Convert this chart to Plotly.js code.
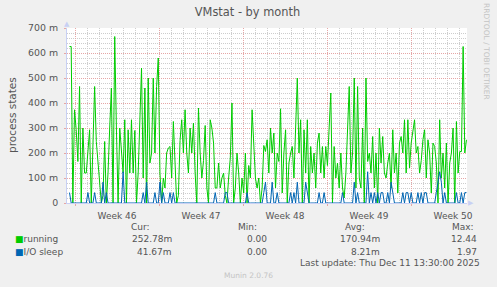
<!DOCTYPE html>
<html>
<head>
<meta charset="utf-8">
<script src="https://cdn.plot.ly/plotly-3.0.1.min.js"></script>
<style>
  html, body { margin: 0; padding: 0; background: #F0F0F0; }
  #chart { width: 497px; height: 287px; }
</style>
</head>
<body>
<div id="chart"></div>
<script>
// ---- data (values in milli-units, 2025-11-09 08:00 = hour 0) ----
const seriesNames = ['running', 'I/O sleep'];
const seriesColors = ['#00CC00', '#0066B3'];

const runningValues = [
  626,626,0,373,293,166,466,0,300,120,
  120,200,293,0,226,466,246,166,80,0,
  30,246,0,120,300,460,0,666,300,0,
  300,200,120,333,0,293,120,333,120,290,
  0,120,373,540,100,460,0,500,160,200,
  500,200,466,580,120,0,100,60,200,220,
  226,100,326,120,0,30,250,333,200,373,
  200,120,300,200,320,120,0,380,200,100,
  170,310,60,0,333,300,240,60,60,160,
  60,100,120,30,0,100,180,400,0,60,
  200,120,0,100,40,200,0,150,100,373,
  200,100,60,100,0,60,230,
  206,253,120,300,200,280,60,200,166,377,
  40,200,293,0,160,200,226,100,330,500,
  200,333,0,293,120,333,0,226,120,200,
  60,240,280,120,226,100,226,150,300,440,
  0,226,100,160,60,200,60,20,120,333,
  466,120,200,500,60,466,100,60,300,0,
  500,166,200,120,266,60,200,0,300,160,
  266,120,100,160,200,60,293,120,200,40,
  240,266,200,333,120,333,140,240,293,333,
  200,226,120,170,253,293,100,253,200,40,
  240,226,160,0,333,100,200,60,240,0,
  160,200,300,0,326,120,206,206,626,200,
  252.78
];

const ioSleepValues = [
  41.67,0,0,0,0,0,0,0,0,0,
  0,41.67,0,0,0,41.67,0,0,0,0,
  83.33,0,41.67,0,0,0,0,0,0,0,
  0,0,125,0,0,0,0,0,0,0,
  0,0,0,0,41.67,0,83.33,0,0,0,
  0,41.67,0,0,83.33,0,41.67,0,0,0,
  41.67,0,41.67,0,0,0,0,0,0,0,
  0,0,0,0,0,0,0,0,0,0,
  0,0,0,0,0,0,0,41.67,0,0,
  0,0,0,41.67,41.67,0,0,0,0,0,
  0,0,0,0,0,0,41.67,0,0,0,
  0,0,0,0,0,0,41.67,83.33,0,0,
  0,83.33,0,0,41.67,0,0,0,0,0,
  0,0,41.67,0,41.67,0,83.33,0,0,0,
  0,83.33,41.67,0,0,0,0,0,0,41.67,
  0,0,41.67,0,0,0,0,0,0,0,
  0,0,0,41.67,0,0,0,0,0,0,
  83.33,0,41.67,0,0,0,0,0,125,0,
  41.67,0,41.67,0,41.67,0,41.67,41.67,0,0,
  41.67,0,83.33,41.67,0,0,0,0,0,41.67,
  0,41.67,41.67,0,41.67,0,0,0,41.67,0,
  41.67,0,41.67,41.67,0,0,0,0,0,41.67,
  83.33,125,83.33,0,41.67,0,0,0,0,0,
  0,41.67,0,0,41.67,0,41.67,41.67
];

// sampling of the series along the time axis (hours since 2025-11-09 08:00)
const sampleStartHour = 5;
const sampleStepHours = 3.35;

// x-axis: week boundaries (hours) and their labels
const weekStartHours = [16, 184, 352, 520, 688];
const weekLabels = ['Week 46', 'Week 47', 'Week 48', 'Week 49', 'Week 50'];

// y-axis ticks
const yTickValues = [0, 100, 200, 300, 400, 500, 600, 700];
const yTickLabels = ['0', '100 m', '200 m', '300 m', '400 m', '500 m', '600 m', '700 m'];

// legend statistics
const statHeaders = ['Cur:', 'Min:', 'Avg:', 'Max:'];
const runningStats = ['252.78m', '0.00', '170.94m', '12.44'];
const ioSleepStats = ['41.67m', '0.00', '8.21m', '1.97'];

const titleText = 'VMstat - by month';
const yTitleText = 'process states';
const lastUpdateText = 'Last update: Thu Dec 11 13:30:00 2025';
const footerText = 'Munin 2.0.76';
const sideText = 'RRDTOOL / TOBI OETIKER';

// ---- layout helpers ----
const FONT = 'DejaVu Sans, sans-serif';
const PL = 67, PW = 400, PT = 28, PH = 175;
const X = px => (px - PL) / PW;
const Y = py => (PT + PH - py) / PH;

const xs = runningValues.map((_, i) => sampleStartHour + i * sampleStepHours);

const traces = [
  { x: xs, y: runningValues, type: 'scatter', mode: 'lines',
    line: { color: seriesColors[0], width: 1 }, hoverinfo: 'skip' },
  { x: xs, y: ioSleepValues, type: 'scatter', mode: 'lines',
    line: { color: seriesColors[1], width: 1 }, hoverinfo: 'skip' }
];

const textColor = '#555555';
const ann = [];
function addText(text, px, py, anchor, size, color, extra) {
  ann.push(Object.assign({
    text: text, xref: 'paper', yref: 'paper', x: X(px), y: Y(py),
    xanchor: anchor, yanchor: 'middle', showarrow: false,
    font: { family: FONT, size: size, color: color }
  }, extra || {}));
}

// y-axis title
addText(yTitleText, 12, 115, 'center', 10.5, textColor, { textangle: -90 });
// side text
addText(sideText, 487, 51, 'center', 7.5, '#C4C4C4', { textangle: 90 });
// stats header
const colRight = [152, 259, 367, 476];
const valRight = [174, 269, 382, 479];
statHeaders.forEach((h, i) => addText(h, colRight[i], 227, 'right', 9, textColor));
// legend rows
[[runningStats, 239], [ioSleepStats, 251.5]].forEach(([stats, py], r) => {
  addText('<span style="color:' + seriesColors[r] + '">■</span>' + seriesNames[r], 13, py, 'left', 9, textColor);
  stats.forEach((v, i) => addText(v, valRight[i], py, 'right', 9, textColor));
});
addText(lastUpdateText, 482, 263, 'right', 9, textColor);
addText(footerText, 248, 275, 'center', 7.5, '#C4C4C4');
// axis arrows
addText('▲', 67, 24, 'center', 7, '#C8D0F4');
addText('▶', 471, 203, 'center', 7, '#C8D0F4');

const gridMajor = '#E6A6A6';
const gridMinor = '#CDCDCD';

const layout = {
  width: 497, height: 287,
  margin: { l: PL, r: 497 - PL - PW, t: PT, b: 287 - PT - PH, pad: 0 },
  paper_bgcolor: '#F0F0F0',
  plot_bgcolor: '#FFFFFF',
  showlegend: false,
  title: {
    text: titleText, x: 247.5 / 497, xanchor: 'center',
    y: 1 - 12.5 / 287, yanchor: 'middle', yref: 'container',
    font: { family: FONT, size: 11.4, color: textColor }
  },
  xaxis: {
    range: [0, 800],
    tickmode: 'array', tickvals: weekStartHours, ticktext: weekLabels,
    ticklabelshift: 42, ticklabelstandoff: 2,
    ticks: 'outside', ticklen: 2, tickcolor: gridMajor,
    showgrid: true, gridcolor: gridMajor, griddash: '1px,1px', gridwidth: 1,
    minor: { tickmode: 'linear', tick0: 16, dtick: 24, showgrid: true,
             gridcolor: gridMinor, griddash: '1px,1px', ticks: '' },
    showline: true, linecolor: '#C8D0F4', linewidth: 1,
    zeroline: false, fixedrange: true,
    tickfont: { family: FONT, size: 9, color: textColor }
  },
  yaxis: {
    range: [0, 700],
    tickmode: 'array', tickvals: yTickValues, ticktext: yTickLabels,
    ticks: 'outside', ticklen: 2, tickcolor: gridMajor, ticklabelstandoff: 4,
    showgrid: true, gridcolor: gridMajor, griddash: '1px,1px', gridwidth: 1,
    minor: { tickmode: 'linear', tick0: 0, dtick: 20, showgrid: true,
             gridcolor: gridMinor, griddash: '1px,1px', ticks: '' },
    showline: true, linecolor: '#C8D0F4', linewidth: 1,
    zeroline: false, fixedrange: true,
    tickfont: { family: FONT, size: 9.4, color: textColor }
  },
  annotations: ann
};

Plotly.newPlot('chart', traces, layout, { staticPlot: true, displayModeBar: false });
</script>
</body>
</html>
